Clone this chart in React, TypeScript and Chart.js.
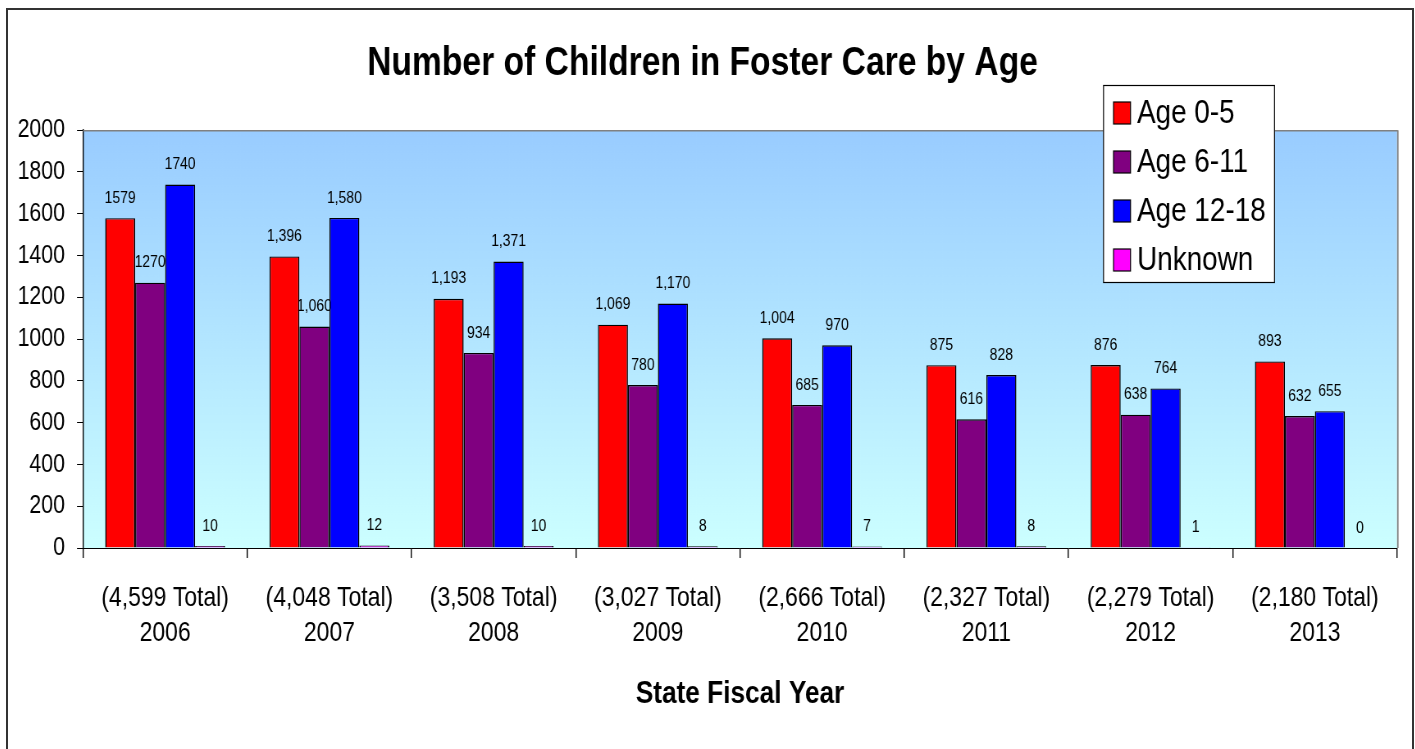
import React, { useEffect, useRef } from "react";
import { Chart, registerables } from "chart.js";

Chart.register(...registerables);

// ---------- data ----------
const years = ["2006", "2007", "2008", "2009", "2010", "2011", "2012", "2013"];
const totals = ["4,599", "4,048", "3,508", "3,027", "2,666", "2,327", "2,279", "2,180"];
const age0to5 = [1579, 1396, 1193, 1069, 1004, 875, 876, 893];
const age6to11 = [1270, 1060, 934, 780, 685, 616, 638, 632];
const age12to18 = [1740, 1580, 1371, 1170, 970, 828, 764, 655];
const unknownAge = [10, 12, 10, 8, 7, 8, 1, 0];
const commaLabels = [false, true, true, true, true, true, true, true];
const seriesNames = ["Age 0-5", "Age 6-11", "Age 12-18", "Unknown"];
const seriesColors = ["#FF0000", "#800080", "#0000FF", "#FF00FF"];
const yMin = 0;
const yMax = 2000;
const yStep = 200;
const chartTitle = "Number of Children in Foster Care by Age";
const xTitle = "State Fiscal Year";

// ---------- layout ----------
const CSS_W = 1404;
const CSS_H = 739;
const CANVAS_W = 1712; // drawn wide, shown squeezed (narrow type look)
const S = CSS_W / CANVAS_W;
const FONT = "'Liberation Sans', Arial, sans-serif";
const px = (n: number) => n / S; // page-width px -> canvas px

const decorPlugin = {
  id: "decor",
  beforeDraw(chart: any) {
    const { ctx, chartArea: a } = chart;
    const g = ctx.createLinearGradient(0, a.top, 0, a.bottom);
    g.addColorStop(0, "#99CCFF");
    g.addColorStop(1, "#CCFFFF");
    ctx.save();
    ctx.fillStyle = g;
    ctx.fillRect(a.left, a.top, a.right - a.left, a.bottom - a.top);
    ctx.restore();
  },
  beforeDatasetsDraw(chart: any) {
    const { ctx } = chart;
    ctx.save();
    ctx.font = `17px ${FONT}`;
    ctx.fillStyle = "#000";
    ctx.textAlign = "center";
    ctx.textBaseline = "middle";
    chart.data.datasets.forEach((ds: any, di: number) => {
      const meta = chart.getDatasetMeta(di);
      meta.data.forEach((el: any, i: number) => {
        const v = ds.data[i] as number;
        const txt = commaLabels[i] ? v.toLocaleString("en-US") : String(v);
        ctx.fillText(txt, el.x, el.y - 20);
      });
    });
    ctx.restore();
  },
  afterDatasetsDraw(chart: any) {
    const { ctx, chartArea: a } = chart;
    ctx.save();
    ctx.strokeStyle = "#808080";
    ctx.lineWidth = 1.5;
    ctx.beginPath();
    ctx.moveTo(a.left, a.top + 0.5);
    ctx.lineTo(a.right + 1, a.top + 0.5);
    ctx.stroke();
    ctx.lineWidth = 1.8;
    ctx.beginPath();
    ctx.moveTo(a.right + 1, a.top);
    ctx.lineTo(a.right + 1, a.bottom);
    ctx.stroke();
    ctx.restore();
  },
  afterDraw(chart: any) {
    const { ctx } = chart;
    const bx = px(1095.5), by = 75.5, bw = px(171), bh = 197;
    ctx.save();
    ctx.fillStyle = "#FFFFFF";
    ctx.fillRect(bx, by, bw, bh);
    ctx.strokeStyle = "#000";
    ctx.lineWidth = 1.2;
    ctx.strokeRect(bx, by, bw, bh);
    ctx.font = `34px ${FONT}`;
    ctx.textAlign = "left";
    ctx.textBaseline = "middle";
    chart.data.datasets.forEach((ds: any, i: number) => {
      const cy = 103 + i * 49;
      ctx.fillStyle = ds.backgroundColor;
      ctx.fillRect(px(1105.5), cy - 11, px(17), 22);
      ctx.strokeRect(px(1105.5), cy - 11, px(17), 22);
      ctx.fillStyle = "#000";
      ctx.fillText(ds.label, px(1129), cy + 1);
    });
    ctx.restore();
  },
};

export default function App() {
  const ref = useRef<HTMLCanvasElement | null>(null);

  useEffect(() => {
    if (!ref.current) return;
    const seriesData = [age0to5, age6to11, age12to18, unknownAge];
    const chart = new Chart(ref.current, {
      type: "bar",
      data: {
        labels: years.map((y, i) => [`(${totals[i]} Total)`, y]),
        datasets: seriesData.map((d, i) => ({
          label: seriesNames[i],
          data: d,
          backgroundColor: seriesColors[i],
          borderColor: "#000000",
          borderWidth: { top: 1.4, left: 1.5, right: 1.5, bottom: 0 },
          barPercentage: 1,
          categoryPercentage: 0.73,
        })),
      },
      options: {
        responsive: false,
        animation: false,
        layout: { padding: { left: 0, right: px(15), top: 0, bottom: 0 } },
        plugins: {
          legend: { display: false },
          tooltip: { enabled: false },
          title: {
            display: true,
            text: chartTitle,
            color: "#000",
            font: { family: FONT, size: 41, weight: "bold", lineHeight: 1.2 },
            padding: { top: 29, bottom: 42 },
          },
        },
        scales: {
          x: {
            grid: {
              display: true,
              drawOnChartArea: false,
              drawTicks: true,
              tickLength: 10,
              color: "#000",
              lineWidth: 1.4,
              offset: true,
            },
            border: { display: true, color: "#000", width: 1 },
            ticks: {
              color: "#000",
              autoSkip: false,
              maxRotation: 0,
              minRotation: 0,
              padding: 23,
              font: { family: FONT, size: 28, lineHeight: 1.25 },
            },
            title: {
              display: true,
              text: xTitle,
              color: "#000",
              font: { family: FONT, size: 32, weight: "bold", lineHeight: 1.2 },
              padding: { top: 0, bottom: 36 },
            },
            afterFit(scale: any) {
              scale.height = 201;
            },
          },
          y: {
            min: yMin,
            max: yMax,
            grid: {
              display: true,
              drawOnChartArea: false,
              drawTicks: true,
              tickLength: px(6),
              color: "#000",
            },
            border: { display: true, color: "#000", width: 1.4 },
            ticks: {
              stepSize: yStep,
              color: "#000",
              padding: px(12),
              font: { family: FONT, size: 26 },
              callback: (v: any) => String(v),
            },
            afterFit(scale: any) {
              scale.width = px(75);
            },
          },
        },
      },
      plugins: [decorPlugin],
    });
    return () => chart.destroy();
  }, []);

  return (
    <div
      style={{
        position: "fixed",
        left: 6,
        top: 8,
        width: CSS_W,
        height: CSS_H,
        borderTop: "2px solid #333",
        borderLeft: "2px solid #333",
        borderRight: "2px solid #333",
        background: "#fff",
      }}
    >
      <canvas
        ref={ref}
        width={CANVAS_W}
        height={CSS_H}
        style={{ display: "block", width: CSS_W, height: CSS_H }}
      />
    </div>
  );
}
